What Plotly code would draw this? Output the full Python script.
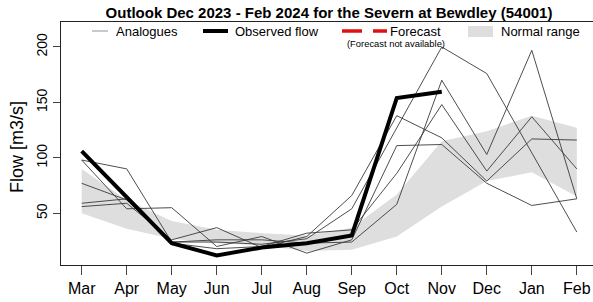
import plotly.graph_objects as go

months = ["Mar", "Apr", "May", "Jun", "Jul", "Aug", "Sep", "Oct", "Nov", "Dec", "Jan", "Feb"]
observed = [106, 64, 23, 12, 19, 23, 30, 154, 159.5, None, None, None]
analogue_1 = [98, 90, 24, 24, 22, 27, 54, 127, 200, 176, 105, 33]
analogue_2 = [59, 63, 24, 26, 26, 23, 24, 58, 170, 103, 197, 63]
analogue_3 = [77, 62, 23, 18, 20, 32, 35, 86, 148, 88, 137, 90]
analogue_4 = [56, 59, 26, 37, 19, 29, 66, 138, 118, 79, 117, 116]
analogue_5 = [98, 54, 55, 20, 29, 14, 26, 111, 112, 77, 57, 63]
analogues = [analogue_1, analogue_2, analogue_3, analogue_4, analogue_5]
normal_low = [50, 36, 27, 23, 21, 16, 17, 29, 56, 79, 87, 65]
normal_high = [90, 62, 43, 35, 32, 30, 37, 67, 115, 124, 138, 127]
y_ticks = [50, 100, 150, 200]

W, H = 593, 302
L, R, T, B = 61, 0, 22, 37
PW, PH = W - L - R, H - T - B
FONT = "Liberation Sans, Arial, sans-serif"


def px(x):
    return (x - L) / PW


def py(y):
    return (H - B - y) / PH


fig = go.Figure()
fig.add_trace(go.Scatter(x=months, y=normal_low, mode="lines", line=dict(width=0),
                         hoverinfo="skip", showlegend=False))
fig.add_trace(go.Scatter(x=months, y=normal_high, mode="lines", line=dict(width=0),
                         fill="tonexty", fillcolor="#dedede", name="Normal range",
                         showlegend=False))
for a in analogues:
    fig.add_trace(go.Scatter(x=months, y=a, mode="lines",
                             line=dict(color="#3a3a3a", width=0.9),
                             name="Analogues", showlegend=False))
fig.add_trace(go.Scatter(x=months, y=observed, mode="lines",
                         line=dict(color="black", width=4),
                         name="Observed flow", showlegend=False))

# legend (drawn manually to mirror the original layout)
shapes = [
    dict(type="line", xref="paper", yref="paper", x0=px(92), x1=px(108), y0=py(31), y1=py(31),
         line=dict(color="#888888", width=0.9)),
    dict(type="line", xref="paper", yref="paper", x0=px(203), x1=px(228), y0=py(31), y1=py(31),
         line=dict(color="black", width=4)),
    dict(type="line", xref="paper", yref="paper", x0=px(342), x1=px(362), y0=py(31), y1=py(31),
         line=dict(color="#e01010", width=3.5)),
    dict(type="line", xref="paper", yref="paper", x0=px(373), x1=px(387), y0=py(31), y1=py(31),
         line=dict(color="#e01010", width=3.5)),
    dict(type="rect", xref="paper", yref="paper", x0=px(468), x1=px(493), y0=py(37), y1=py(26),
         line=dict(width=0), fillcolor="#dedede"),
]
annotations = [
    dict(text="Analogues", x=px(114), y=py(31), xanchor="left", yanchor="middle"),
    dict(text="Observed flow", x=px(233), y=py(31), xanchor="left", yanchor="middle"),
    dict(text="Forecast", x=px(388), y=py(31), xanchor="left", yanchor="middle"),
    dict(text="Normal range", x=px(499), y=py(31), xanchor="left", yanchor="middle"),
]
for a in annotations:
    a.update(xref="paper", yref="paper", showarrow=False,
             font=dict(family=FONT, size=13, color="black"))
annotations.append(dict(text="(Forecast not available)", x=px(396), y=py(43),
                        xref="paper", yref="paper", showarrow=False,
                        xanchor="center", yanchor="middle",
                        font=dict(family=FONT, size=9.4, color="black")))
annotations.append(dict(text="Flow [m3/s]", x=px(17), y=py(147), textangle=-90,
                        xref="paper", yref="paper", showarrow=False,
                        xanchor="center", yanchor="middle",
                        font=dict(family=FONT, size=18, color="black")))

fig.update_layout(
    width=W, height=H,
    margin=dict(l=L, r=R, t=T, b=B, autoexpand=False),
    paper_bgcolor="white", plot_bgcolor="white",
    title=dict(text="<b>Outlook Dec 2023 - Feb 2024 for the Severn at Bewdley (54001)</b>",
               x=329 / W, xref="container", xanchor="center",
               y=1 - 13 / H, yref="container", yanchor="middle",
               font=dict(family=FONT, size=15, color="black")),
    shapes=shapes,
    annotations=annotations,
    showlegend=False,
)
fig.update_xaxes(
    type="category", range=[-0.46, 11.36], automargin=False,
    showgrid=False, zeroline=False,
    showline=True, linecolor="#222222", linewidth=1, mirror=True,
    ticks="outside", ticklen=9, tickcolor="#444444", tickwidth=1,
    tickfont=dict(family=FONT, size=16, color="black"),
)
fig.update_yaxes(
    range=[3.3, 222.5], tickvals=y_ticks, ticktext=[str(v) for v in y_ticks],
    tickangle=-90, automargin=False,
    showgrid=False, zeroline=False,
    showline=True, linecolor="#222222", linewidth=1,
    ticks="outside", ticklen=7, tickcolor="#444444", tickwidth=1,
    tickfont=dict(family=FONT, size=14, color="black"),
)

fig.write_html("out.html",
               config={"displayModeBar": False},
               post_script="document.body.style.margin='0';document.body.style.overflow='hidden';")
